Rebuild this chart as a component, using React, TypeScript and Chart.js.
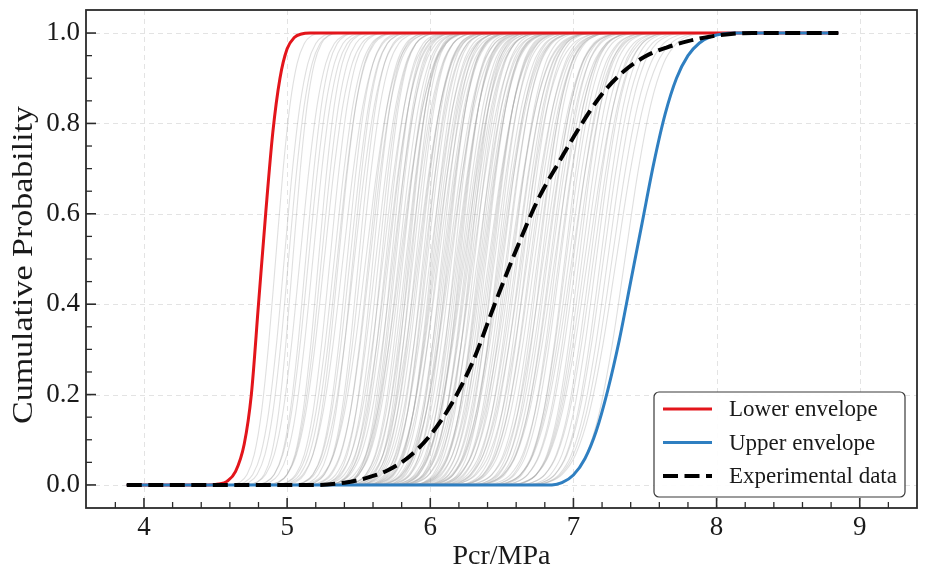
import React, { useEffect, useRef } from 'react';
import { Chart, registerables } from 'chart.js';

Chart.register(...registerables);

const X_TICKS = [4, 5, 6, 7, 8, 9];
const Y_TICKS = [0, 0.2, 0.4, 0.6, 0.8, 1.0];
const X_START = 3.88;
const X_END = 8.85;

// lower envelope (red)
const LOWER_X = [3.88, 4.45, 4.52, 4.58, 4.64, 4.7, 4.75, 4.8, 4.85, 4.9, 4.95, 5.0, 5.05, 5.1, 5.16, 8.85];
const LOWER_Y = [0, 0, 0.002, 0.008, 0.03, 0.09, 0.2, 0.4, 0.6, 0.78, 0.9, 0.965, 0.99, 0.998, 1, 1];

// upper envelope (blue)
const UPPER_X = [3.88, 6.85, 6.92, 7.0, 7.08, 7.16, 7.24, 7.32, 7.4, 7.48, 7.56, 7.64, 7.72, 7.8, 7.88, 7.96, 8.04, 8.12, 8.85];
const UPPER_Y = [0, 0, 0.005, 0.022, 0.058, 0.12, 0.21, 0.32, 0.45, 0.58, 0.71, 0.82, 0.9, 0.95, 0.978, 0.992, 0.998, 1, 1];

// experimental data (black dashed)
const EXP_X = [3.88, 5.2, 5.4, 5.55, 5.7, 5.85, 6.0, 6.15, 6.3, 6.45, 6.6, 6.75, 6.9, 7.05, 7.2, 7.35, 7.5, 7.65, 7.8, 7.95, 8.1, 8.25, 8.85];
const EXP_Y = [0, 0, 0.005, 0.015, 0.032, 0.062, 0.11, 0.18, 0.275, 0.4, 0.52, 0.63, 0.715, 0.795, 0.865, 0.915, 0.948, 0.968, 0.982, 0.992, 0.998, 1, 1];

// shape shared by the grey simulated curves: probability levels and offsets in spread units
const SHAPE_P = [0.001, 0.006, 0.023, 0.067, 0.159, 0.309, 0.5, 0.691, 0.841, 0.933, 0.977, 0.994, 0.999];
const SHAPE_Z = [-3.1, -2.5, -2, -1.5, -1, -0.5, 0, 0.5, 1, 1.5, 2, 2.5, 3.1];

// grey simulated curves: [median, spread]
const GRAY_CURVES: [number, number][] = [
  [4.92, 0.1], [4.98, 0.11], [5.01, 0.11], [5.04, 0.1], [5.09, 0.12], [5.13, 0.11], [5.15, 0.12], [5.18, 0.12],
  [5.22, 0.11], [5.24, 0.12], [5.26, 0.13],
  [5.3, 0.12], [5.33, 0.13], [5.35, 0.13], [5.36, 0.12], [5.39, 0.14], [5.42, 0.12], [5.44, 0.13], [5.46, 0.12],
  [5.47, 0.14], [5.5, 0.12], [5.52, 0.13], [5.55, 0.15], [5.57, 0.13], [5.58, 0.14], [5.6, 0.12], [5.62, 0.14],
  [5.64, 0.13], [5.66, 0.12], [5.67, 0.15],
  [5.69, 0.13], [5.7, 0.15], [5.71, 0.14], [5.73, 0.12], [5.74, 0.15], [5.75, 0.13], [5.76, 0.13], [5.78, 0.14],
  [5.79, 0.16], [5.8, 0.15], [5.81, 0.13], [5.83, 0.14], [5.84, 0.13], [5.85, 0.12], [5.86, 0.15], [5.87, 0.12],
  [5.88, 0.14], [5.9, 0.13], [5.91, 0.16], [5.92, 0.15], [5.93, 0.14], [5.95, 0.13], [5.96, 0.15], [5.97, 0.13],
  [5.98, 0.14], [6.0, 0.16], [6.01, 0.13], [6.02, 0.14], [6.03, 0.15], [6.04, 0.16], [6.05, 0.14], [6.06, 0.16],
  [6.08, 0.13], [6.09, 0.15], [6.1, 0.15], [6.11, 0.14], [6.12, 0.13], [6.13, 0.16], [6.14, 0.17], [6.15, 0.15],
  [6.17, 0.13], [6.18, 0.16], [6.19, 0.15], [6.2, 0.14], [6.21, 0.13], [6.22, 0.15], [6.23, 0.16], [6.24, 0.17],
  [6.25, 0.14], [6.26, 0.15], [6.27, 0.16], [6.28, 0.13], [6.29, 0.15], [6.3, 0.17], [6.31, 0.14], [6.33, 0.17],
  [6.34, 0.14], [6.35, 0.15], [6.36, 0.16], [6.37, 0.16], [6.38, 0.15], [6.39, 0.14], [6.41, 0.17], [6.42, 0.16],
  [6.43, 0.15], [6.44, 0.14], [6.45, 0.16], [6.47, 0.14], [6.48, 0.16], [6.49, 0.17], [6.5, 0.17], [6.51, 0.15],
  [6.53, 0.16], [6.54, 0.15], [6.56, 0.18], [6.57, 0.17], [6.58, 0.15], [6.6, 0.17], [6.61, 0.16], [6.63, 0.16],
  [6.64, 0.18], [6.65, 0.15], [6.67, 0.15], [6.68, 0.18], [6.7, 0.16], [6.71, 0.17], [6.73, 0.17], [6.75, 0.16],
  [6.76, 0.15], [6.78, 0.15], [6.79, 0.18], [6.81, 0.17], [6.82, 0.16], [6.84, 0.16], [6.85, 0.17], [6.87, 0.18],
  [6.88, 0.15], [6.9, 0.17], [6.91, 0.16], [6.94, 0.15], [6.95, 0.16], [6.97, 0.17], [6.99, 0.18], [7.0, 0.16],
  [7.02, 0.17], [7.04, 0.15], [7.06, 0.16], [7.08, 0.17], [7.1, 0.18], [7.12, 0.16], [7.14, 0.17], [7.16, 0.16],
  [7.19, 0.16], [7.21, 0.17], [7.24, 0.17], [7.27, 0.18], [7.3, 0.19], [7.36, 0.18],
];

const LABEL_FONT = '"Liberation Serif", "Times New Roman", serif';
const Y_TITLE_LENGTH = 318;

const toPoints = (xs: number[], ys: number[]) => xs.map((x, i) => ({ x, y: ys[i] }));

const framePlugin = {
  id: 'frameAndLegend',
  beforeDatasetsDraw(chart: any) {
    const { ctx, chartArea: a, scales } = chart;
    ctx.save();
    ctx.strokeStyle = '#e3e3e3';
    ctx.lineWidth = 1;
    ctx.setLineDash([5, 4]);
    X_TICKS.forEach((v) => {
      const px = Math.round(scales.x.getPixelForValue(v)) + 0.5;
      ctx.beginPath();
      ctx.moveTo(px, a.top);
      ctx.lineTo(px, a.bottom);
      ctx.stroke();
    });
    Y_TICKS.forEach((v) => {
      const py = Math.round(scales.y.getPixelForValue(v)) + 0.5;
      ctx.beginPath();
      ctx.moveTo(a.left, py);
      ctx.lineTo(a.right, py);
      ctx.stroke();
    });
    ctx.restore();
  },
  afterDatasetsDraw(chart: any) {
    const { ctx, chartArea: a, scales } = chart;
    ctx.save();
    ctx.setLineDash([]);
    ctx.strokeStyle = '#2b2b2b';
    // inward ticks on bottom and left
    const xs = scales.x;
    const ys = scales.y;
    for (let v = 3.6; v <= 9.41; v += 0.2) {
      const r = Math.round(v * 10) / 10;
      const major = Math.abs(r - Math.round(r)) < 1e-6;
      const px = xs.getPixelForValue(r);
      if (px < a.left + 1 || px > a.right - 1) continue;
      ctx.lineWidth = major ? 1.6 : 1.3;
      ctx.beginPath();
      ctx.moveTo(px, a.bottom);
      ctx.lineTo(px, a.bottom - (major ? 10 : 6));
      ctx.stroke();
    }
    for (let v = -0.05; v <= 1.051; v += 0.05) {
      const r = Math.round(v * 100) / 100;
      const major = Math.abs(r * 5 - Math.round(r * 5)) < 1e-6;
      const py = ys.getPixelForValue(r);
      if (py < a.top + 1 || py > a.bottom - 1) continue;
      ctx.lineWidth = major ? 1.6 : 1.3;
      ctx.beginPath();
      ctx.moveTo(a.left, py);
      ctx.lineTo(a.left + (major ? 10 : 6), py);
      ctx.stroke();
    }
    // frame
    ctx.lineWidth = 1.8;
    ctx.strokeRect(a.left, a.top, a.right - a.left, a.bottom - a.top);

    // axis titles
    ctx.fillStyle = '#1a1a1a';
    ctx.font = `28px ${LABEL_FONT}`;
    ctx.textAlign = 'center';
    ctx.textBaseline = 'middle';
    ctx.fillText('Pcr/MPa', (a.left + a.right) / 2, 557);
    ctx.save();
    ctx.translate(24, 265);
    ctx.rotate(-Math.PI / 2);
    ctx.font = `29px ${LABEL_FONT}`;
    const yTitle = 'Cumulative Probability';
    const w = ctx.measureText(yTitle).width;
    ctx.scale(Y_TITLE_LENGTH / w, 1);
    ctx.fillText(yTitle, 0, 0);
    ctx.restore();

    // legend
    const bx = 654, by = 392, bw = 251, bh = 105;
    ctx.fillStyle = 'rgba(255,255,255,0.9)';
    ctx.strokeStyle = '#3a3a3a';
    ctx.lineWidth = 1.2;
    ctx.beginPath();
    ctx.roundRect(bx, by, bw, bh, 5);
    ctx.fill();
    ctx.stroke();
    const items = chart.data.datasets.filter((d: any) => d.label);
    ctx.font = `23px ${LABEL_FONT}`;
    ctx.textAlign = 'left';
    ctx.textBaseline = 'middle';
    items.forEach((d: any, i: number) => {
      const y = by + 17 + i * 33.5;
      ctx.strokeStyle = d.borderColor;
      ctx.lineWidth = d.borderWidth;
      ctx.setLineDash(d.borderDash || []);
      ctx.beginPath();
      ctx.moveTo(663, y);
      ctx.lineTo(712, y);
      ctx.stroke();
      ctx.setLineDash([]);
      ctx.fillStyle = '#1a1a1a';
      ctx.fillText(d.label, 729, y + 1);
    });
    ctx.restore();
  },
};

const App: React.FC = () => {
  const canvasRef = useRef<HTMLCanvasElement | null>(null);
  const chartRef = useRef<Chart | null>(null);

  useEffect(() => {
    document.body.style.margin = '0';
    const ctx = canvasRef.current?.getContext('2d');
    if (!ctx) return;

    const grayDatasets = GRAY_CURVES.map(([m, s]) => ({
      data: [
        { x: X_START, y: 0 },
        ...SHAPE_Z.map((z, i) => ({ x: m + s * z, y: SHAPE_P[i] })),
        { x: X_END, y: 1 },
      ],
      borderColor: 'rgba(160,160,160,0.34)',
      borderWidth: 1.1,
      pointRadius: 0,
      cubicInterpolationMode: 'monotone' as const,
      order: 3,
    }));

    chartRef.current = new Chart(ctx, {
      type: 'line',
      data: {
        datasets: [
          ...grayDatasets,
          {
            label: 'Lower envelope',
            data: toPoints(LOWER_X, LOWER_Y),
            borderColor: '#e3151b',
            borderWidth: 3,
            pointRadius: 0,
            cubicInterpolationMode: 'monotone',
            order: 2,
          },
          {
            label: 'Upper envelope',
            data: toPoints(UPPER_X, UPPER_Y),
            borderColor: '#2f7fc1',
            borderWidth: 3,
            pointRadius: 0,
            cubicInterpolationMode: 'monotone',
            order: 1,
          },
          {
            label: 'Experimental data',
            data: toPoints(EXP_X, EXP_Y),
            borderColor: '#000000',
            borderWidth: 4,
            borderDash: [15, 6.5],
            pointRadius: 0,
            cubicInterpolationMode: 'monotone',
            order: 0,
          },
        ] as any,
      },
      options: {
        responsive: false,
        animation: false,
        events: [],
        layout: { padding: { top: 10, right: 11, left: 0, bottom: 0 } },
        plugins: {
          legend: { display: false },
          tooltip: { enabled: false },
        },
        scales: {
          x: {
            type: 'linear',
            min: 3.595,
            max: 9.4,
            grid: { display: false, drawTicks: false },
            border: { display: false },
            afterBuildTicks: (scale: any) => {
              scale.ticks = X_TICKS.map((v) => ({ value: v }));
            },
            afterFit: (scale: any) => {
              scale.height = 70;
              scale.paddingLeft = 0;
              scale.paddingRight = 0;
            },
            ticks: {
              autoSkip: false,
              maxRotation: 0,
              padding: 4,
              color: '#1a1a1a',
              font: { family: LABEL_FONT, size: 27 },
              callback: (v: any) => String(v),
            },
          },
          y: {
            type: 'linear',
            min: -0.051,
            max: 1.051,
            grid: { display: false, drawTicks: false },
            border: { display: false },
            afterBuildTicks: (scale: any) => {
              scale.ticks = Y_TICKS.map((v) => ({ value: v }));
            },
            afterFit: (scale: any) => {
              scale.width = 86;
              scale.paddingTop = 0;
              scale.paddingBottom = 0;
            },
            ticks: {
              autoSkip: false,
              padding: 6,
              color: '#1a1a1a',
              font: { family: LABEL_FONT, size: 27 },
              callback: (v: any) => Number(v).toFixed(1),
            },
          },
        },
      },
      plugins: [framePlugin],
    });

    return () => {
      if (chartRef.current) {
        chartRef.current.destroy();
        chartRef.current = null;
      }
    };
  }, []);

  return (
    <div style={{ width: 928, height: 578, background: '#fff' }}>
      <canvas ref={canvasRef} width={928} height={578} />
    </div>
  );
};

export default App;
